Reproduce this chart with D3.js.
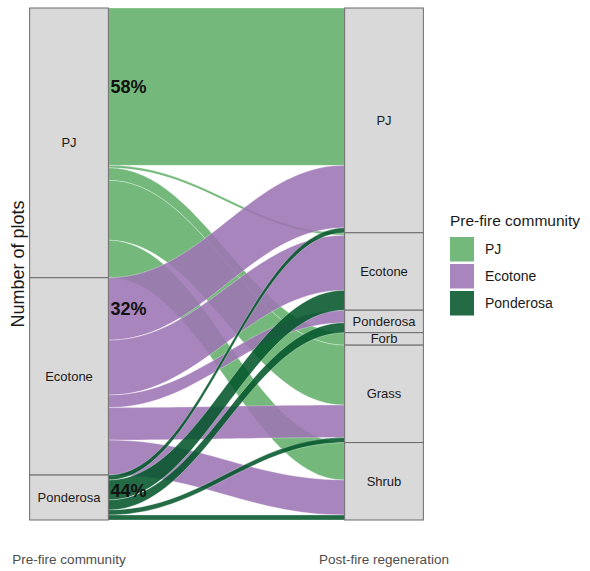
<!DOCTYPE html>
<html>
<head>
<meta charset="utf-8">
<script src="https://cdn.jsdelivr.net/npm/d3@7"></script>
<style>
  html, body { margin: 0; padding: 0; background: #ffffff; }
  svg { display: block; font-family: "Liberation Sans", Arial, sans-serif; }
</style>
</head>
<body>
<svg id="chart" width="590" height="571"></svg>
<script>
// Pre-fire community (left axis) and post-fire regeneration (right axis)
const preFire = ["PJ", "Ecotone", "Ponderosa"];
const postFire = ["PJ", "Ecotone", "Ponderosa", "Forb", "Grass", "Shrub"];

// Number of plots moving from each pre-fire community to each post-fire class
// (columns follow postFire order)
const fromPJ        = [63, 1, 0, 5, 24, 15];
const fromEcotone   = [25, 22, 5, 0, 13, 14];
const fromPonderosa = [2, 8, 4, 0, 2, 2];

const axisLabels = ["Pre-fire community", "Post-fire regeneration"];
const yTitle = "Number of plots";
const legendTitle = "Pre-fire community";

// Flows whose share of the pre-fire community is printed on the plot
const labelledFlows = [["PJ", "PJ"], ["Ecotone", "PJ"], ["Ponderosa", "Ecotone"]];

const colours = { PJ: "#61af69", Ecotone: "#9d74b4", Ponderosa: "#03572b" };
const flowOpacity = 0.88;

// ---- build flow table ----
const counts = [fromPJ, fromEcotone, fromPonderosa];
const flows = [];
preFire.forEach((from, i) => {
  postFire.forEach((to, j) => {
    const n = counts[i][j];
    if (n > 0) flows.push({ from, to, i, j, n });
  });
});
const total = d3.sum(flows, d => d.n);

const svg = d3.select("#chart");

const x = d3.scaleLinear().domain([1, 2]).range([69, 384]);
const y = d3.scaleLinear().domain([0, total]).range([520, 8]);
const halfW = (x(2) - x(1)) / 8;

// stack lodes from the top; left side ordered by (from, to), right by (to, from)
let acc = 0;
flows.slice().sort((a, b) => a.i - b.i || a.j - b.j).forEach(f => {
  f.l0 = acc; acc += f.n; f.l1 = acc;
});
acc = 0;
flows.slice().sort((a, b) => a.j - b.j || a.i - b.i).forEach(f => {
  f.r0 = acc; acc += f.n; f.r1 = acc;
});
const yTop = u => y(total - u);

// strata extents
function strata(names, key) {
  let a = 0;
  return names.map((name, k) => {
    const n = d3.sum(flows.filter(f => f[key] === k), f => f.n);
    const s = { name, u0: a, u1: a + n };
    a += n;
    return s;
  });
}
const leftStrata = strata(preFire, "i");
const rightStrata = strata(postFire, "j");

// ---- flows ----
const xa = x(1) + halfW, xb = x(2) - halfW;
const k = 0.4 * (xb - xa);
function ribbon(f) {
  const p = d3.path();
  const lt = yTop(f.l0), lb = yTop(f.l1), rt = yTop(f.r0), rb = yTop(f.r1);
  p.moveTo(xa, lt);
  p.bezierCurveTo(xa + k, lt, xb - k, rt, xb, rt);
  p.lineTo(xb, rb);
  p.bezierCurveTo(xb - k, rb, xa + k, lb, xa, lb);
  p.closePath();
  return p.toString();
}

svg.append("g")
  .selectAll("path")
  .data(flows.slice().sort((a, b) => a.i - b.i || a.j - b.j))
  .join("path")
  .attr("d", ribbon)
  .attr("fill", d => colours[d.from])
  .attr("fill-opacity", flowOpacity)
  .attr("stroke", "#ffffff")
  .attr("stroke-width", 0.5)
  .attr("stroke-opacity", 0.6);

// ---- strata ----
function drawStrata(list, axisPos) {
  const g = svg.append("g");
  g.selectAll("rect")
    .data(list)
    .join("rect")
    .attr("x", x(axisPos) - halfW)
    .attr("width", 2 * halfW)
    .attr("y", d => yTop(d.u0))
    .attr("height", d => yTop(d.u1) - yTop(d.u0))
    .attr("fill", "#d9d9d9")
    .attr("stroke", "#6b6b6b")
    .attr("stroke-width", 1);
  g.selectAll("text")
    .data(list)
    .join("text")
    .attr("x", x(axisPos))
    .attr("y", d => (yTop(d.u0) + yTop(d.u1)) / 2)
    .attr("dy", "0.35em")
    .attr("text-anchor", "middle")
    .attr("font-size", 13)
    .attr("fill", "#1a1a1a")
    .text(d => d.name);
}
drawStrata(leftStrata, 1);
drawStrata(rightStrata, 2);

// ---- percentage labels on selected flows ----
const fromTotals = Object.fromEntries(leftStrata.map(s => [s.name, s.u1 - s.u0]));
labelledFlows.forEach(([from, to]) => {
  const f = flows.find(d => d.from === from && d.to === to);
  const pct = Math.round(100 * f.n / fromTotals[from]);
  svg.append("text")
    .attr("x", xa + 2)
    .attr("y", (yTop(f.l0) + yTop(f.l1)) / 2)
    .attr("dy", "0.36em")
    .attr("font-size", 18)
    .attr("font-weight", "bold")
    .attr("fill", "#111111")
    .text(pct + "%");
});

// ---- axis labels ----
svg.append("g")
  .selectAll("text")
  .data(axisLabels)
  .join("text")
  .attr("x", (d, i) => x(i + 1))
  .attr("y", 564)
  .attr("text-anchor", "middle")
  .attr("font-size", 13.5)
  .attr("fill", "#4d4d4d")
  .text(d => d);

svg.append("text")
  .attr("transform", `translate(24,${(y(0) + y(total)) / 2}) rotate(-90)`)
  .attr("text-anchor", "middle")
  .attr("font-size", 18)
  .attr("fill", "#1a1a1a")
  .text(yTitle);

// ---- legend ----
const legend = svg.append("g").attr("transform", "translate(450,0)");
legend.append("text")
  .attr("x", 0)
  .attr("y", 226)
  .attr("font-size", 15.5)
  .attr("fill", "#1a1a1a")
  .text(legendTitle);
const rows = legend.selectAll("g.key")
  .data(preFire)
  .join("g")
  .attr("class", "key")
  .attr("transform", (d, i) => `translate(0,${237 + i * 27})`);
rows.append("rect")
  .attr("width", 24)
  .attr("height", 24.5)
  .attr("fill", d => colours[d])
  .attr("fill-opacity", flowOpacity);
rows.append("text")
  .attr("x", 35)
  .attr("y", 12.5)
  .attr("dy", "0.35em")
  .attr("font-size", 14)
  .attr("fill", "#1a1a1a")
  .text(d => d);
</script>
</body>
</html>
